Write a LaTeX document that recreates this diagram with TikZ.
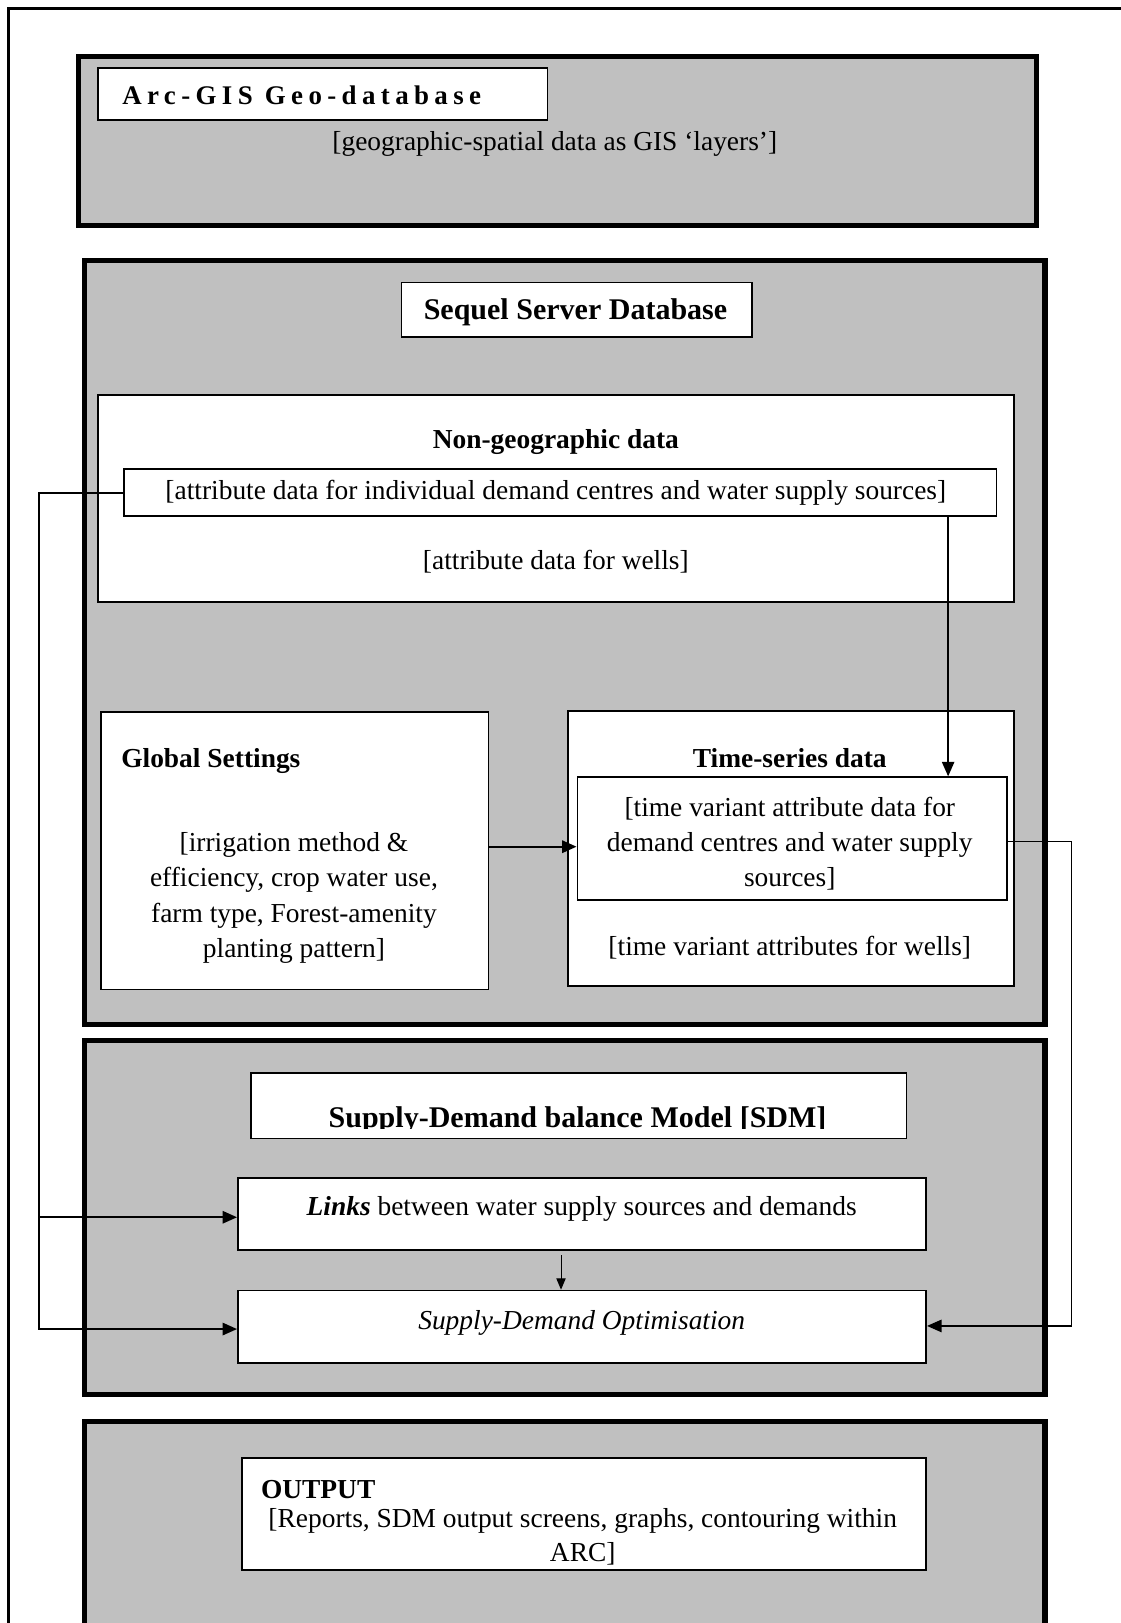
\documentclass[tikz,border=0pt]{standalone}
\usepackage{fontspec}
\setmainfont{Liberation Serif}
\newfontfamily\spacedfont[LetterSpace=20]{Liberation Serif}
\usetikzlibrary{arrows.meta}
\definecolor{panelgray}{HTML}{C0C0C0}
\tikzset{
  panel/.style={draw=black, line width=5pt, fill=panelgray, anchor=north west, inner sep=0pt},
  wbox/.style={draw=black, line width=1.6pt, fill=white, anchor=north west, inner sep=0pt},
  txt/.style={inner sep=0pt, yshift=-2pt, font=\fontsize{26.5}{34}\selectfont},
  btxt/.style={inner sep=0pt, yshift=-2pt, font=\fontsize{26.5}{34}\selectfont\bfseries},
  conn/.style={draw=black, line width=1.6pt, -{Triangle[length=14pt,width=12pt]}},
}
\begin{document}
\begin{tikzpicture}[x=1pt,y=-1pt]
\useasboundingbox (0,0) rectangle (1083,1568);
\clip (0,0) rectangle (1083,1568);
% outer frame
\draw[line width=2.5pt] (8,1620) -- (8,8) -- (1120,8);

% panel 1
\node[panel, minimum width=926pt, minimum height=163pt] (arc) at (73,52) {};
\node[wbox, minimum width=434pt, minimum height=50pt] (arcT) at (94,65) {};
\node[inner sep=0pt, anchor=west, yshift=-1pt, font=\fontsize{26}{30}\spacedfont\bfseries] (arcTt) at (118,91) {Arc-GIS Geo-database};
\node[txt] (geo) at (536,137) {[geographic-spatial data as GIS `layers']};

% panel 2
\node[panel, minimum width=928pt, minimum height=738pt] (seq) at (79,249) {};
\node[wbox, minimum width=339pt, minimum height=53pt] (seqT) at (387,272) {};
\node[inner sep=0pt, yshift=-2pt, font=\fontsize{29}{34}\selectfont\bfseries] (seqTt) at (556,300) {Sequel Server Database};
\node[wbox, minimum width=885pt, minimum height=200pt] (ng) at (94,381) {};
\node[btxt] (ngt) at (537,425) {Non-geographic data};
\node[wbox, minimum width=843pt, minimum height=46pt] (Attr) at (119,452) {};
\node[txt] (attrt) at (537,474) {[attribute data for individual demand centres and water supply sources]};
\node[txt] (wells) at (537,541) {[attribute data for wells]};

\node[wbox, minimum width=374pt, minimum height=268pt] (Global) at (97,687) {};
\node[btxt, anchor=west] (globalt) at (117,733) {Global Settings};
\node[txt, align=center] (globaltx) at (284,865.5) {[irrigation method \&\\efficiency, crop water use,\\farm type, Forest-amenity\\planting pattern]};

\node[wbox, minimum width=431pt, minimum height=266pt] (TS) at (548,686) {};
\node[btxt] (tst) at (763,730) {Time-series data};
\node[wbox, minimum width=415pt, minimum height=119pt] (TV) at (557,750) {};
\node[txt, align=center] (tvt) at (763,813) {[time variant attribute data for\\demand centres and water supply\\sources]};
\node[txt] (tvw) at (763,914) {[time variant attributes for wells]};

% panel 3
\node[panel, minimum width=928pt, minimum height=342pt] (sdm) at (79,1003) {};
\node[wbox, minimum width=633pt, minimum height=63pt] (SDMT) at (242,1036) {};
\begin{scope}
\clip (242,1036) rectangle (875,1090.5);
\node[inner sep=0pt, anchor=base, font=\fontsize{29}{34}\selectfont\bfseries] (sdmt) at (558,1089) {Supply-Demand balance Model [SDM]};
\end{scope}
\node[wbox, minimum width=665pt, minimum height=70pt] (Links) at (229,1137) {};
\node[txt] (linkst) at (562,1166) {\textbf{\textit{Links}} between water supply sources and demands};
\node[wbox, minimum width=665pt, minimum height=70pt] (Opt) at (229,1246) {};
\node[txt, font=\fontsize{26.5}{34}\selectfont\itshape] (optt) at (562,1276) {Supply-Demand Optimisation};

% panel 4
\node[panel, minimum width=928pt, minimum height=260pt] (outp) at (79,1371) {};
\node[wbox, minimum width=661pt, minimum height=108pt] (OutT) at (233,1408) {};
\node[btxt, anchor=west] (outt) at (252,1437) {OUTPUT};
\node[inner sep=0pt, align=center, font=\fontsize{26.5}{33}\selectfont] (outtx) at (563,1485) {[Reports, SDM output screens, graphs, contouring within\\ARC]};

% connectors
\coordinate (lx) at (38,476);
\coordinate (dx) at (916,0);
\coordinate (gy) at (0,818);
\coordinate (rx) at (1035,813);
\coordinate (mx) at (542,0);
\draw[conn, line width=1.8pt] (Attr.west |- lx) -- (lx) |- (Opt.west |- 0,1284);
\draw[conn, line width=1.8pt] (lx |- 0,1176) -- (Links.west |- 0,1176);
\draw[conn, line width=1.3pt] (Attr.south -| dx) -- (TV.north -| dx);
\draw[conn, line width=2pt] (Global.east |- gy) -- (TV.west |- gy);
\draw[conn, line width=1.3pt] (TV.east |- rx) -- (rx) |- (Opt.east |- 0,1281);
\draw[conn, line width=1pt, -{Triangle[length=11pt,width=9pt]}] ([yshift=-4pt]Links.south -| mx) -- (Opt.north -| mx);
\end{tikzpicture}
\end{document}
